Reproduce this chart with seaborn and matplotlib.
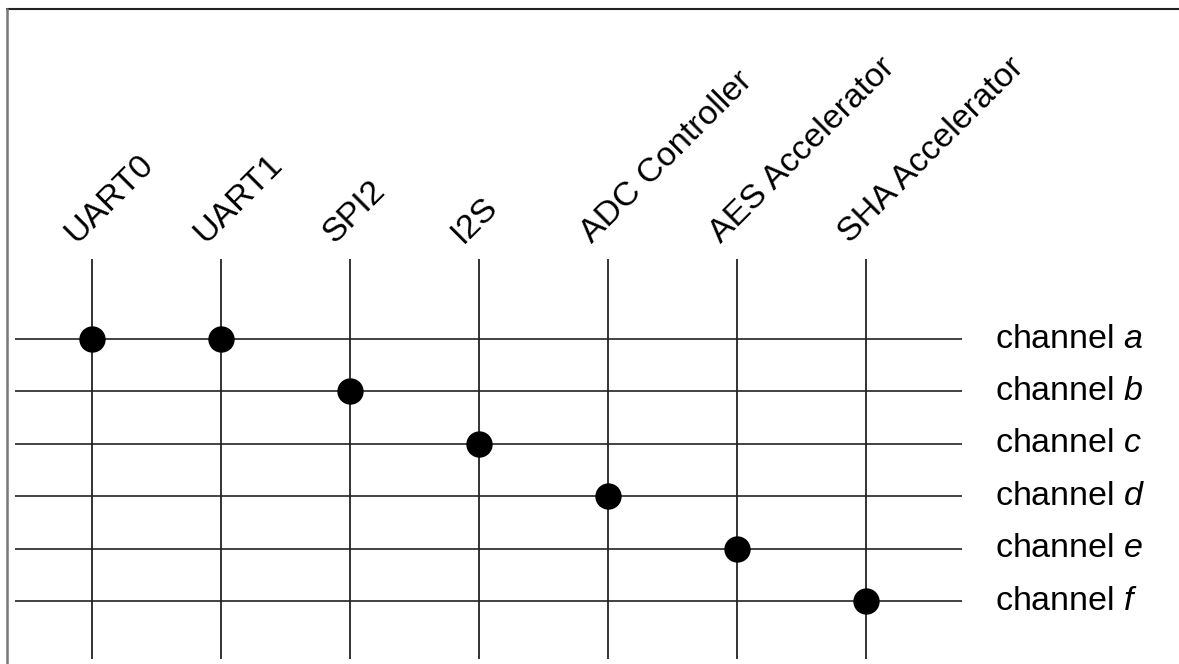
import matplotlib
matplotlib.use("Agg")
import matplotlib.pyplot as plt
import seaborn as sns
import pandas as pd
from matplotlib.lines import Line2D

# data: which DMA channel each peripheral is hooked to
peripherals = ["UART0", "UART1", "SPI2", "I2S", "ADC Controller",
               "AES Accelerator", "SHA Accelerator"]
channels = ["a", "b", "c", "d", "e", "f"]
assigned = ["a", "a", "b", "c", "d", "e", "f"]

sns.set_style("white")
plt.rcParams["font.family"] = ["Liberation Sans", "DejaVu Sans"]
plt.rcParams["text.color"] = "black"
plt.rcParams["mathtext.fontset"] = "custom"
plt.rcParams["mathtext.rm"] = "Liberation Sans"
plt.rcParams["mathtext.it"] = "Liberation Sans:italic"

W, H = 1179, 664
fig = plt.figure(figsize=(W / 100, H / 100), dpi=100)
ax = fig.add_axes([0, 0, 1, 1])

# grid geometry (pixels): first column / row and spacing
x0, dx = 92, 129
y0, dy = 339, 52.4
ax.set_xlim((0 - x0) / dx, (W - x0) / dx)
ax.set_ylim((H - y0) / dy, (0 - y0) / dy)
ax.axis("off")

xi = list(range(len(peripherals)))
yi = list(range(len(channels)))

# vertical lines per peripheral
v_top, v_bot = (259 - y0) / dy, (659 - y0) / dy
ax.vlines(xi, v_top, v_bot, color="#111111", lw=1.2)
# horizontal lines per channel
h_left, h_right = (15 - x0) / dx, (962 - x0) / dx
ax.hlines(yi, h_left, h_right, color="#222222", lw=1.2)

df = pd.DataFrame({
    "x": xi,
    "y": [channels.index(c) for c in assigned],
})
sns.scatterplot(data=df, x="x", y="y", s=360, color="black",
                edgecolor="black", linewidth=0, ax=ax, zorder=3)

for i, name in enumerate(peripherals):
    ax.text(i - 16 / dx, (244 - y0) / dy, name, rotation=45,
            rotation_mode="anchor", ha="left", va="baseline", fontsize=24.5,
            color="black")

for j, c in enumerate(channels):
    ax.text((995 - x0) / dx, j, f"channel ${c}$", ha="left", va="center",
            fontsize=24.5, color="black")

# frame lines at top and left edge
fig.add_artist(Line2D([6.5 / W, 1], [1 - 9 / H, 1 - 9 / H],
                      transform=fig.transFigure, color="#222222", lw=1.5))
fig.add_artist(Line2D([6.5 / W, 6.5 / W], [0, 1 - 9 / H],
                      transform=fig.transFigure, color="#777777", lw=1.8))

ax.set_xlabel("")
ax.set_ylabel("")
fig.savefig("out.png", dpi=100)
